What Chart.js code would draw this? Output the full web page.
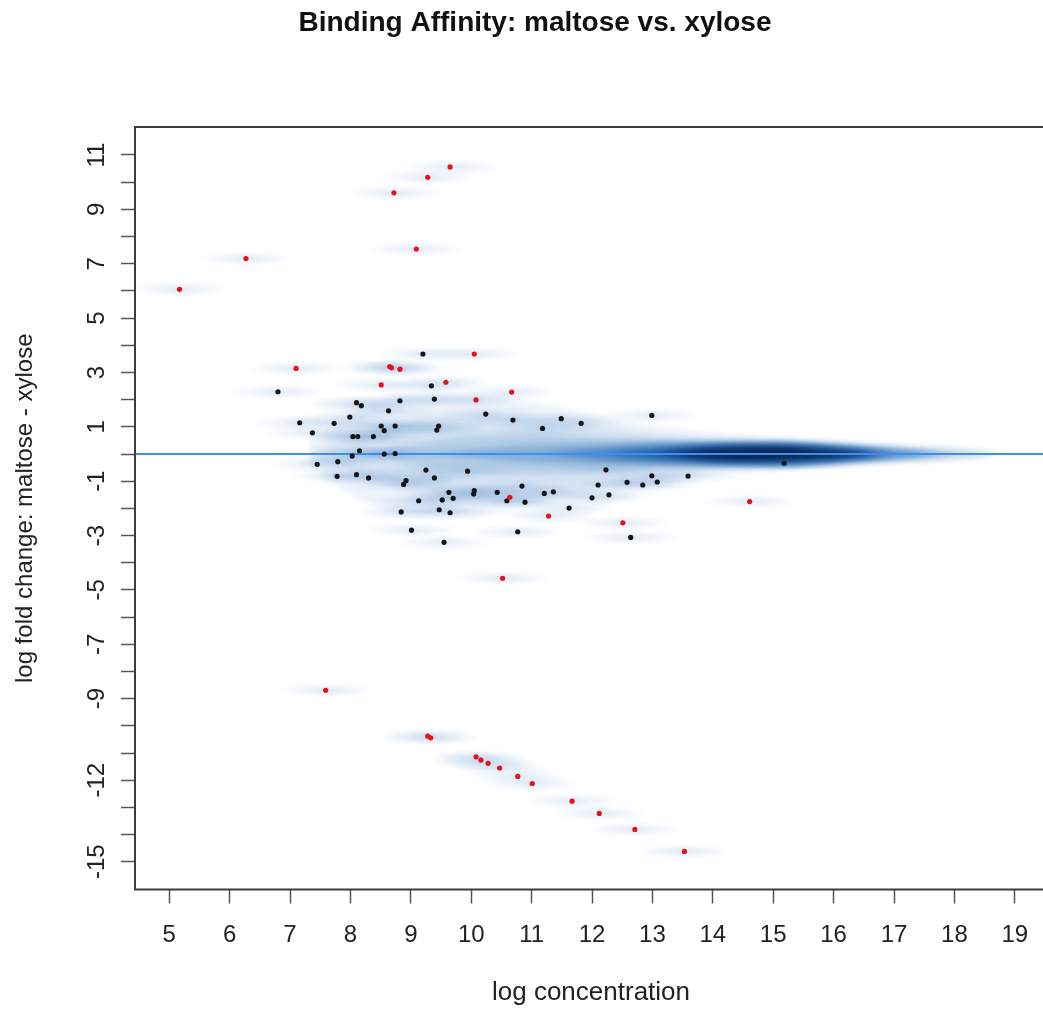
<!DOCTYPE html>
<html>
<head>
<meta charset="utf-8">
<script src="https://cdn.jsdelivr.net/npm/chart.js@4.4.1/dist/chart.umd.min.js"></script>
<style>
  html, body { margin: 0; padding: 0; background: #fff; overflow: hidden; }
  #wrap { width: 1043px; height: 1010px; overflow: hidden; }
</style>
</head>
<body>
<div id="wrap"><canvas id="maPlot" width="1052" height="1010"></canvas></div>
<script>
// axis ranges and ticks
const xLimits = [4.433, 19.533];
const yLimits = [-16.02, 12.03];
const xTickValues = [5, 6, 7, 8, 9, 10, 11, 12, 13, 14, 15, 16, 17, 18, 19];
const yTickValues = [-15, -14, -13, -12, -11, -10, -9, -8, -7, -6, -5, -4, -3, -2, -1, 0, 1, 2, 3, 4, 5, 6, 7, 8, 9, 10, 11];
const yTickLabels = [11, 9, 7, 5, 3, 1, -1, -3, -5, -7, -9, -12, -15];

// sites, not significant (black)
const blackX = [9.20, 6.80, 9.34, 8.82, 9.39, 8.10, 8.18, 8.63, 10.24, 10.69, 11.49, 11.82, 7.99, 7.16, 7.73,
  8.51, 8.56, 8.74, 9.46, 9.43, 11.18, 7.37, 8.04, 8.12, 8.38, 12.99, 8.15, 8.03, 8.56, 8.74,
  7.45, 7.79, 7.78, 8.10, 8.30, 9.25, 9.39, 9.94, 8.92, 8.88, 9.63, 10.05, 10.04, 10.43, 10.84,
  9.13, 9.52, 9.70, 10.59, 10.89, 11.21, 11.36, 11.62, 8.84, 9.47, 9.65, 9.01, 10.77, 9.55, 15.18,
  12.23, 12.10, 12.58, 12.99, 13.08, 12.84, 13.59, 12.00, 12.28, 12.64];
const blackY = [3.68, 2.29, 2.51, 1.96, 2.02, 1.89, 1.78, 1.59, 1.47, 1.25, 1.30, 1.13, 1.36, 1.15, 1.13,
  1.03, 0.86, 1.03, 1.03, 0.88, 0.94, 0.78, 0.64, 0.64, 0.64, 1.42, 0.12, -0.07, 0.00, 0.02,
  -0.38, -0.28, -0.82, -0.76, -0.88, -0.59, -0.88, -0.63, -0.98, -1.12, -1.41, -1.35, -1.47, -1.41, -1.18,
  -1.72, -1.69, -1.63, -1.72, -1.77, -1.45, -1.39, -1.99, -2.13, -2.05, -2.16, -2.80, -2.86, -3.25, -0.34,
  -0.58, -1.14, -1.04, -0.80, -1.03, -1.14, -0.81, -1.61, -1.50, -3.07];

// differentially bound sites (red)
const redX = [9.65, 9.28, 8.72, 9.09, 6.27, 5.17, 10.05, 7.10, 8.65, 8.68, 8.82, 8.51, 9.58, 10.67, 10.08,
  10.64, 11.28, 12.51, 14.61, 10.52, 7.59, 9.28, 9.33, 10.08, 10.16, 10.28, 10.47, 10.77, 11.01, 11.67,
  12.12, 12.71, 13.53];
const redY = [10.56, 10.18, 9.61, 7.54, 7.19, 6.06, 3.68, 3.15, 3.22, 3.17, 3.12, 2.54, 2.64, 2.28, 1.99,
  -1.59, -2.28, -2.53, -1.75, -4.57, -8.69, -10.38, -10.44, -11.14, -11.26, -11.38, -11.55, -11.86, -12.12, -12.77,
  -13.22, -13.81, -14.62];

// smoothed density of all sites around zero: half height of each shade level
const ridgeX = [7.3, 8.0, 9.0, 10.0, 11.0, 12.0, 13.0, 14.0, 15.0, 16.0, 17.0, 18.0, 18.75];
const ridge1 = [0.3, 1.50, 2.20, 2.20, 1.90, 1.45, 1.05, 0.78, 0.60, 0.45, 0.33, 0.22, 0];
const ridge2 = [0, 0.60, 1.30, 1.45, 1.30, 1.00, 0.75, 0.57, 0.48, 0.37, 0.26, 0.15, 0];
const ridge3 = [0, 0, 0.37, 0.66, 0.74, 0.63, 0.52, 0.46, 0.44, 0.33, 0.20, 0.07, 0];
const ridge4 = [0, 0, 0, 0.15, 0.33, 0.40, 0.42, 0.40, 0.40, 0.30, 0.16, 0, 0];
const ridge5 = [0, 0, 0, 0, 0, 0.18, 0.33, 0.37, 0.37, 0.29, 0.11, 0, 0];
const ridge6 = [0, 0, 0, 0, 0, 0, 0.15, 0.30, 0.33, 0.22, 0, 0, 0];
const ridge7 = [0, 0, 0, 0, 0, 0, 0, 0.20, 0.25, 0.12, 0, 0, 0];
const ridge8 = [0, 0, 0, 0, 0, 0, 0, 0.08, 0.15, 0.04, 0, 0, 0];
const zeroLine = 0;

const ridgeLevels = [ridge1, ridge2, ridge3, ridge4, ridge5, ridge6, ridge7, ridge8];
const ridgeColors = ["#edf3fa", "#d7e5f3", "#b5cee7", "#86b0d8", "#4f88c6", "#1f5ba6", "#0b3570", "#061f45"];

const FONT = "'Liberation Sans', Arial, Helvetica, sans-serif";

// soft horizontal smear drawn under every site
function makeHalo() {
    const c = document.createElement("canvas");
    c.width = 100;
    c.height = 16;
    const g = c.getContext("2d");
    const h = g.createLinearGradient(0, 0, c.width, 0);
    h.addColorStop(0, "rgba(70,130,200,0)");
    h.addColorStop(0.25, "rgba(70,130,200,0.08)");
    h.addColorStop(0.5, "rgba(70,130,200,0.17)");
    h.addColorStop(0.75, "rgba(70,130,200,0.08)");
    h.addColorStop(1, "rgba(70,130,200,0)");
    g.fillStyle = h;
    g.fillRect(0, 0, c.width, c.height);
    g.globalCompositeOperation = "destination-in";
    const v = g.createLinearGradient(0, 0, 0, c.height);
    v.addColorStop(0, "rgba(0,0,0,0)");
    v.addColorStop(0.5, "rgba(0,0,0,1)");
    v.addColorStop(1, "rgba(0,0,0,0)");
    g.fillStyle = v;
    g.fillRect(0, 0, c.width, c.height);
    return c;
}

const toPoints = (xs, ys) => xs.map((x, i) => ({ x: x, y: ys[i] }));
const blackPts = toPoints(blackX, blackY);
const redPts = toPoints(redX, redY);

// the lower edge gets the higher order so the filler prepares it before the fill that targets it
const ridgeSets = [];
ridgeLevels.forEach((half, k) => {
    ridgeSets.push({
        type: "line",
        data: ridgeX.map((x, i) => ({ x: x, y: zeroLine + half[i] })),
        fill: "+1",
        backgroundColor: ridgeColors[k],
        borderColor: "transparent",
        borderWidth: 0,
        pointRadius: 0,
        cubicInterpolationMode: "monotone",
        order: 99 - k * 2
    });
    ridgeSets.push({
        type: "line",
        data: ridgeX.map((x, i) => ({ x: x, y: zeroLine - half[i] })),
        fill: false,
        borderColor: "transparent",
        borderWidth: 0,
        pointRadius: 0,
        cubicInterpolationMode: "monotone",
        order: 100 - k * 2
    });
});

// density shading is blurred, nothing else is
const blurPlugin = {
    id: "densityBlur",
    beforeRender(chart) { chart.ctx.filter = "blur(3px)"; },
    beforeDraw(chart) { chart.ctx.filter = "none"; }
};

const framePlugin = {
    id: "frame",
    afterDraw(chart) {
        const a = chart.chartArea;
        const ctx = chart.ctx;
        ctx.save();
        ctx.strokeStyle = "#3c3c3c";
        ctx.lineWidth = 2;
        ctx.strokeRect(a.left, a.top, a.right - a.left, a.bottom - a.top);
        ctx.restore();
    }
};

const ctx = document.getElementById("maPlot").getContext("2d");

new Chart(ctx, {
    type: "scatter",
    data: {
        datasets: [
            {
                label: "Significant",
                data: redPts,
                backgroundColor: "#e3141c",
                borderWidth: 0,
                pointRadius: 2.6,
                order: 0
            },
            {
                label: "Not significant",
                data: blackPts,
                backgroundColor: "#161616",
                borderWidth: 0,
                pointRadius: 2.6,
                order: 1
            },
            {
                type: "line",
                label: "zero",
                data: [{ x: xLimits[0], y: zeroLine }, { x: xLimits[1], y: zeroLine }],
                borderColor: "#3b8ef3",
                borderWidth: 2,
                pointRadius: 0,
                fill: false,
                order: 2
            },
            {
                label: "smear",
                data: blackPts.concat(redPts),
                pointStyle: makeHalo(),
                pointRadius: 1,
                backgroundColor: "rgba(0,0,0,0)",
                order: 3
            },
            ...ridgeSets
        ]
    },
    options: {
        responsive: false,
        animation: false,
        layout: { padding: { left: 21, right: 3, top: 0, bottom: 0 } },
        plugins: {
            legend: { display: false },
            tooltip: { enabled: false },
            colors: { enabled: false },
            filler: { drawTime: "beforeDraw" },
            title: {
                display: true,
                text: "Binding Affinity: maltose vs. xylose",
                color: "#111",
                font: { family: FONT, size: 28, weight: "bold", lineHeight: 1.2 },
                padding: { top: 6, bottom: 87.4 }
            }
        },
        scales: {
            x: {
                type: "linear",
                min: xLimits[0],
                max: xLimits[1],
                afterBuildTicks: (axis) => { axis.ticks = xTickValues.map(v => ({ value: v })); },
                afterFit: (scale) => { scale.height = 120.5; },
                border: { display: false },
                grid: {
                    drawOnChartArea: false,
                    drawTicks: true,
                    tickLength: 14,
                    tickColor: "#555",
                    tickWidth: 1.5
                },
                ticks: {
                    autoSkip: false,
                    maxRotation: 0,
                    padding: 17,
                    color: "#222",
                    font: { family: FONT, size: 24 }
                },
                title: {
                    display: true,
                    text: "log concentration",
                    color: "#222",
                    font: { family: FONT, size: 26, lineHeight: 1.2 },
                    padding: { top: 0, bottom: 1.5 }
                }
            },
            y: {
                type: "linear",
                min: yLimits[0],
                max: yLimits[1],
                afterBuildTicks: (axis) => { axis.ticks = yTickValues.map(v => ({ value: v })); },
                afterFit: (scale) => { scale.width = 114; },
                border: { display: false },
                grid: {
                    drawOnChartArea: false,
                    drawTicks: true,
                    tickLength: 14,
                    tickColor: "#555",
                    tickWidth: 1.5
                },
                ticks: {
                    autoSkip: false,
                    minRotation: 90,
                    maxRotation: 90,
                    crossAlign: "center",
                    padding: 6.7,
                    color: "#222",
                    font: { family: FONT, size: 24 },
                    callback: (v) => yTickLabels.includes(v) ? String(v) : ""
                },
                title: {
                    display: true,
                    text: "log fold change: maltose - xylose",
                    color: "#222",
                    font: { family: FONT, size: 24, lineHeight: 0.33 },
                    padding: 0
                }
            }
        }
    },
    plugins: [blurPlugin, framePlugin]
});
</script>
</body>
</html>
